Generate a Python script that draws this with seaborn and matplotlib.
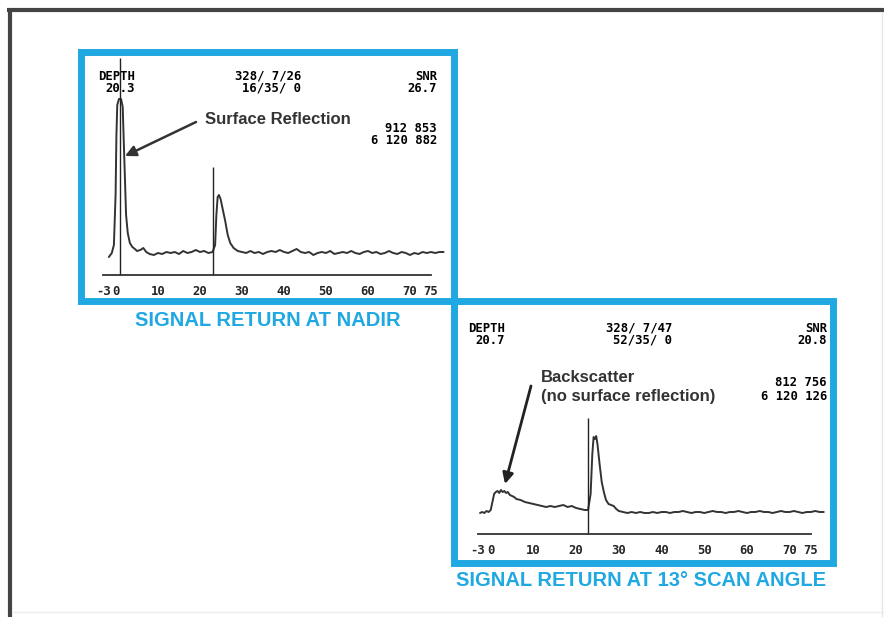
import matplotlib
matplotlib.use("Agg")
import matplotlib.pyplot as plt
import seaborn as sns
import pandas as pd
from matplotlib.patches import Rectangle

sns.set_theme(style="white")
plt.rcParams['font.family'] = ['Liberation Sans', 'DejaVu Sans']

# ---------------- data ----------------
tick_values = [-3, 0, 10, 20, 30, 40, 50, 60, 70, 75]
tick_labels = ["-3", "0", "10", "20", "30", "40", "50", "60", "70", "75"]

nadir_depth = [-1.7, -1.0, -0.5, -0.1, 0.1, 0.3, 0.7, 1.2, 1.6, 1.8, 2.1, 2.4, 2.8,
               3.3, 3.9, 4.5, 5.0, 5.8, 6.5, 7.2, 8.0, 9.0, 10.0, 11.0, 12.0, 13.0, 14.0,
               15.0, 16.0, 17.0, 18.0, 19.0, 20.0, 21.0, 22.0, 23.0, 23.6, 23.9, 24.2,
               24.5, 24.9, 25.4, 26.0, 26.6, 27.2, 28.0, 29.0, 30.0, 31.0, 32.0, 33.0,
               34.0, 35.0, 36.0, 37.0, 38.0, 39.0, 40.0, 41.0, 42.0, 43.0, 44.0, 45.0,
               46.0, 47.0, 48.0, 49.0, 50.0, 51.0, 52.0, 53.0, 54.0, 55.0, 56.0, 57.0,
               58.0, 59.0, 60.0, 61.0, 62.0, 63.0, 64.0, 65.0, 66.0, 67.0, 68.0, 69.0,
               70.0, 71.0, 72.0, 73.0, 74.0, 75.0, 76.0, 77.0, 78.0]
nadir_signal = [18, 22, 30, 80, 140, 170, 176, 176, 168, 140, 100, 60, 42,
                32, 28, 26, 24, 25, 27, 23, 21, 20, 22, 21, 23, 22, 23,
                21, 24, 22, 23, 25, 23, 24, 22, 23, 30, 60, 78,
                80, 76, 66, 54, 40, 32, 27, 24, 23, 22, 24, 22,
                23, 21, 23, 24, 23, 25, 23, 22, 24, 26, 23, 22,
                23, 20, 22, 23, 22, 24, 21, 22, 23, 22, 24, 22,
                21, 23, 24, 22, 23, 21, 22, 24, 22, 21, 23, 22,
                20, 22, 21, 23, 22, 23, 22, 23, 23]

scan_depth = [-2.5, -2.0, -1.5, -1.0, -0.5, 0.0, 0.4, 0.8, 1.2, 1.6, 2.0, 2.4, 2.8, 3.2,
              3.6, 4.0, 4.5, 5.0, 5.5, 6.0, 7.0, 8.0, 9.0, 10.0, 11.0, 12.0, 13.0, 14.0,
              15.0, 16.0, 17.0, 18.0, 19.0, 20.0, 21.0, 22.0, 22.8, 23.4, 23.8, 24.1,
              24.4, 24.7, 25.0, 25.5, 26.0, 26.5, 27.0, 27.6, 28.2, 28.8, 29.4, 30.0,
              31.0, 32.0, 33.0, 34.0, 35.0, 36.0, 37.0, 38.0, 39.0, 40.0, 41.0, 42.0,
              43.0, 44.0, 45.0, 46.0, 47.0, 48.0, 49.0, 50.0, 51.0, 52.0, 53.0, 54.0,
              55.0, 56.0, 57.0, 58.0, 59.0, 60.0, 61.0, 62.0, 63.0, 64.0, 65.0, 66.0,
              67.0, 68.0, 69.0, 70.0, 71.0, 72.0, 73.0, 74.0, 75.0, 76.0, 77.0, 78.0]
scan_signal = [21, 22, 21, 23, 22, 24, 32, 40, 42, 43, 41, 44, 42, 43,
               41, 42, 39, 38, 37, 35, 34, 32, 31, 30, 29, 28, 27, 28,
               27, 28, 29, 27, 28, 26, 25, 24, 24, 40, 80, 97,
               95, 98, 90, 70, 52, 42, 34, 30, 29, 28, 25, 23,
               22, 21, 22, 21, 22, 21, 21, 22, 21, 22, 22, 21,
               22, 22, 23, 22, 21, 22, 22, 21, 22, 23, 22, 22,
               21, 22, 22, 23, 22, 21, 22, 22, 23, 22, 22, 21,
               22, 23, 22, 22, 23, 22, 21, 22, 22, 23, 22, 22]

nadir_markers = [1.0, 23.1]
nadir_marker_tops = [217, 108]
scan_markers = [22.9]
scan_marker_tops = [116]

nadir_header = {"DEPTH": "DEPTH", "depth_val": "20.3", "time1": "328/ 7/26",
                "time2": "16/35/ 0", "SNR": "SNR", "snr_val": "26.7",
                "c1": "912 853", "c2": "6 120 882"}
scan_header = {"DEPTH": "DEPTH", "depth_val": "20.7", "time1": "328/ 7/47",
               "time2": "52/35/ 0", "SNR": "SNR", "snr_val": "20.8",
               "c1": "812 756", "c2": "6 120 126"}

# ---------------- figure ----------------
W, H = 884, 617
fig = plt.figure(figsize=(W / 100, H / 100), dpi=100)
fig.patch.set_facecolor("white")

bg = fig.add_axes([0, 0, 1, 1])
bg.set_xlim(0, W)
bg.set_ylim(H, 0)
bg.axis("off")

BLUE = "#1fa8e1"

# outer frame
bg.plot([7, 884], [10, 10], color="#444444", lw=3.0, solid_capstyle="butt")
bg.plot([9.5, 9.5], [9, 617], color="#444444", lw=3.0, solid_capstyle="butt")
bg.plot([882, 882], [12, 617], color="#e6e6e6", lw=1.0)
bg.plot([12, 884], [612, 612], color="#ececec", lw=1.0)

# blue panels
bg.add_patch(Rectangle((80.5, 51.5), 373, 249.5, fill=False, edgecolor=BLUE, lw=5.0))
bg.add_patch(Rectangle((453.5, 301), 379.5, 261.5, fill=False, edgecolor=BLUE, lw=5.0))

# captions
bg.text(268, 321, "SIGNAL RETURN AT NADIR", color=BLUE, fontsize=14.5,
        fontweight="bold", ha="center", va="center")
bg.text(641, 580, "SIGNAL RETURN AT 13° SCAN ANGLE", color=BLUE, fontsize=14.5,
        fontweight="bold", ha="center", va="center")

MONO = dict(family="DejaVu Sans Mono", fontweight="bold", fontsize=8.8, color="black")


def header(h, x_left_r, x_mid_r, x_right, y1, y2, yc1, yc2):
    bg.text(x_left_r - 37, y1, h["DEPTH"], ha="left", va="center", **MONO)
    bg.text(x_left_r, y2, h["depth_val"], ha="right", va="center", **MONO)
    bg.text(x_mid_r, y1, h["time1"], ha="right", va="center", **MONO)
    bg.text(x_mid_r, y2, h["time2"], ha="right", va="center", **MONO)
    bg.text(x_right, y1, h["SNR"], ha="right", va="center", **MONO)
    bg.text(x_right, y2, h["snr_val"], ha="right", va="center", **MONO)
    bg.text(x_right, yc1, h["c1"], ha="right", va="center", **MONO)
    bg.text(x_right, yc2, h["c2"], ha="right", va="center", **MONO)


header(nadir_header, 135, 301, 437, 76, 88, 129, 141)
header(scan_header, 505, 672, 827, 328, 340, 383, 397)

# annotations
bg.annotate("", xy=(125, 156), xytext=(196, 122),
            arrowprops=dict(arrowstyle="-|>", color="#333333", lw=1.8,
                            mutation_scale=16, shrinkA=0, shrinkB=0))
bg.text(205, 120, "Surface Reflection", fontsize=12, fontweight="bold",
        color="#333333", ha="left", va="center")

bg.annotate("", xy=(505, 484), xytext=(531, 386),
            arrowprops=dict(arrowstyle="-|>", color="#222222", lw=2.0,
                            mutation_scale=16, shrinkA=0, shrinkB=0))
bg.text(541, 377, "Backscatter", fontsize=12, fontweight="bold",
        color="#333333", ha="left", va="center")
bg.text(541, 396, "(no surface reflection)", fontsize=12, fontweight="bold",
        color="#333333", ha="left", va="center")


def px_rect(x0, y0, x1, y1):
    return [x0 / W, 1 - y1 / H, (x1 - x0) / W, (y1 - y0) / H]


def waveform(rect, xs, ys, xlim, ylim, markers, tops):
    ax = fig.add_axes(rect)
    ax.patch.set_visible(False)
    df = pd.DataFrame({"depth": xs, "signal": ys})
    sns.lineplot(data=df, x="depth", y="signal", ax=ax, color="#333333",
                 lw=1.4, estimator=None, sort=False)
    ax.vlines(markers, 0, tops, color="#222222", lw=1.0)
    ax.set_xlim(*xlim)
    ax.set_ylim(*ylim)
    for s in ["left", "right", "top"]:
        ax.spines[s].set_visible(False)
    ax.spines["bottom"].set_position(("data", 0))
    ax.spines["bottom"].set_bounds(-3, 75)
    ax.spines["bottom"].set_color("#333333")
    ax.spines["bottom"].set_linewidth(1.3)
    ax.set_xticks(tick_values)
    ax.set_xticklabels(tick_labels)
    ax.tick_params(axis="x", direction="in", length=4, width=1.0,
                   color="#333333", pad=7, labelsize=8.8)
    for lab in ax.get_xticklabels():
        lab.set_fontfamily("DejaVu Sans Mono")
        lab.set_fontweight("bold")
    ax.set_yticks([])
    ax.set_xlabel("")
    ax.set_ylabel("")
    return ax


# nadir: x px = 116 + 4.2*v, axis line at y=275
waveform(px_rect(116 - 5 * 4.2, 50, 116 + 80 * 4.2, 305),
         nadir_depth, nadir_signal, (-5, 80), (-30, 225),
         nadir_markers, nadir_marker_tops)
# scan: x px = 490.7 + 4.27*v, axis line at y=534
waveform(px_rect(490.7 - 5 * 4.27, 409, 490.7 + 80 * 4.27, 562),
         scan_depth, scan_signal, (-5, 80), (-28, 125),
         scan_markers, scan_marker_tops)

fig.savefig("out.png", dpi=100)
